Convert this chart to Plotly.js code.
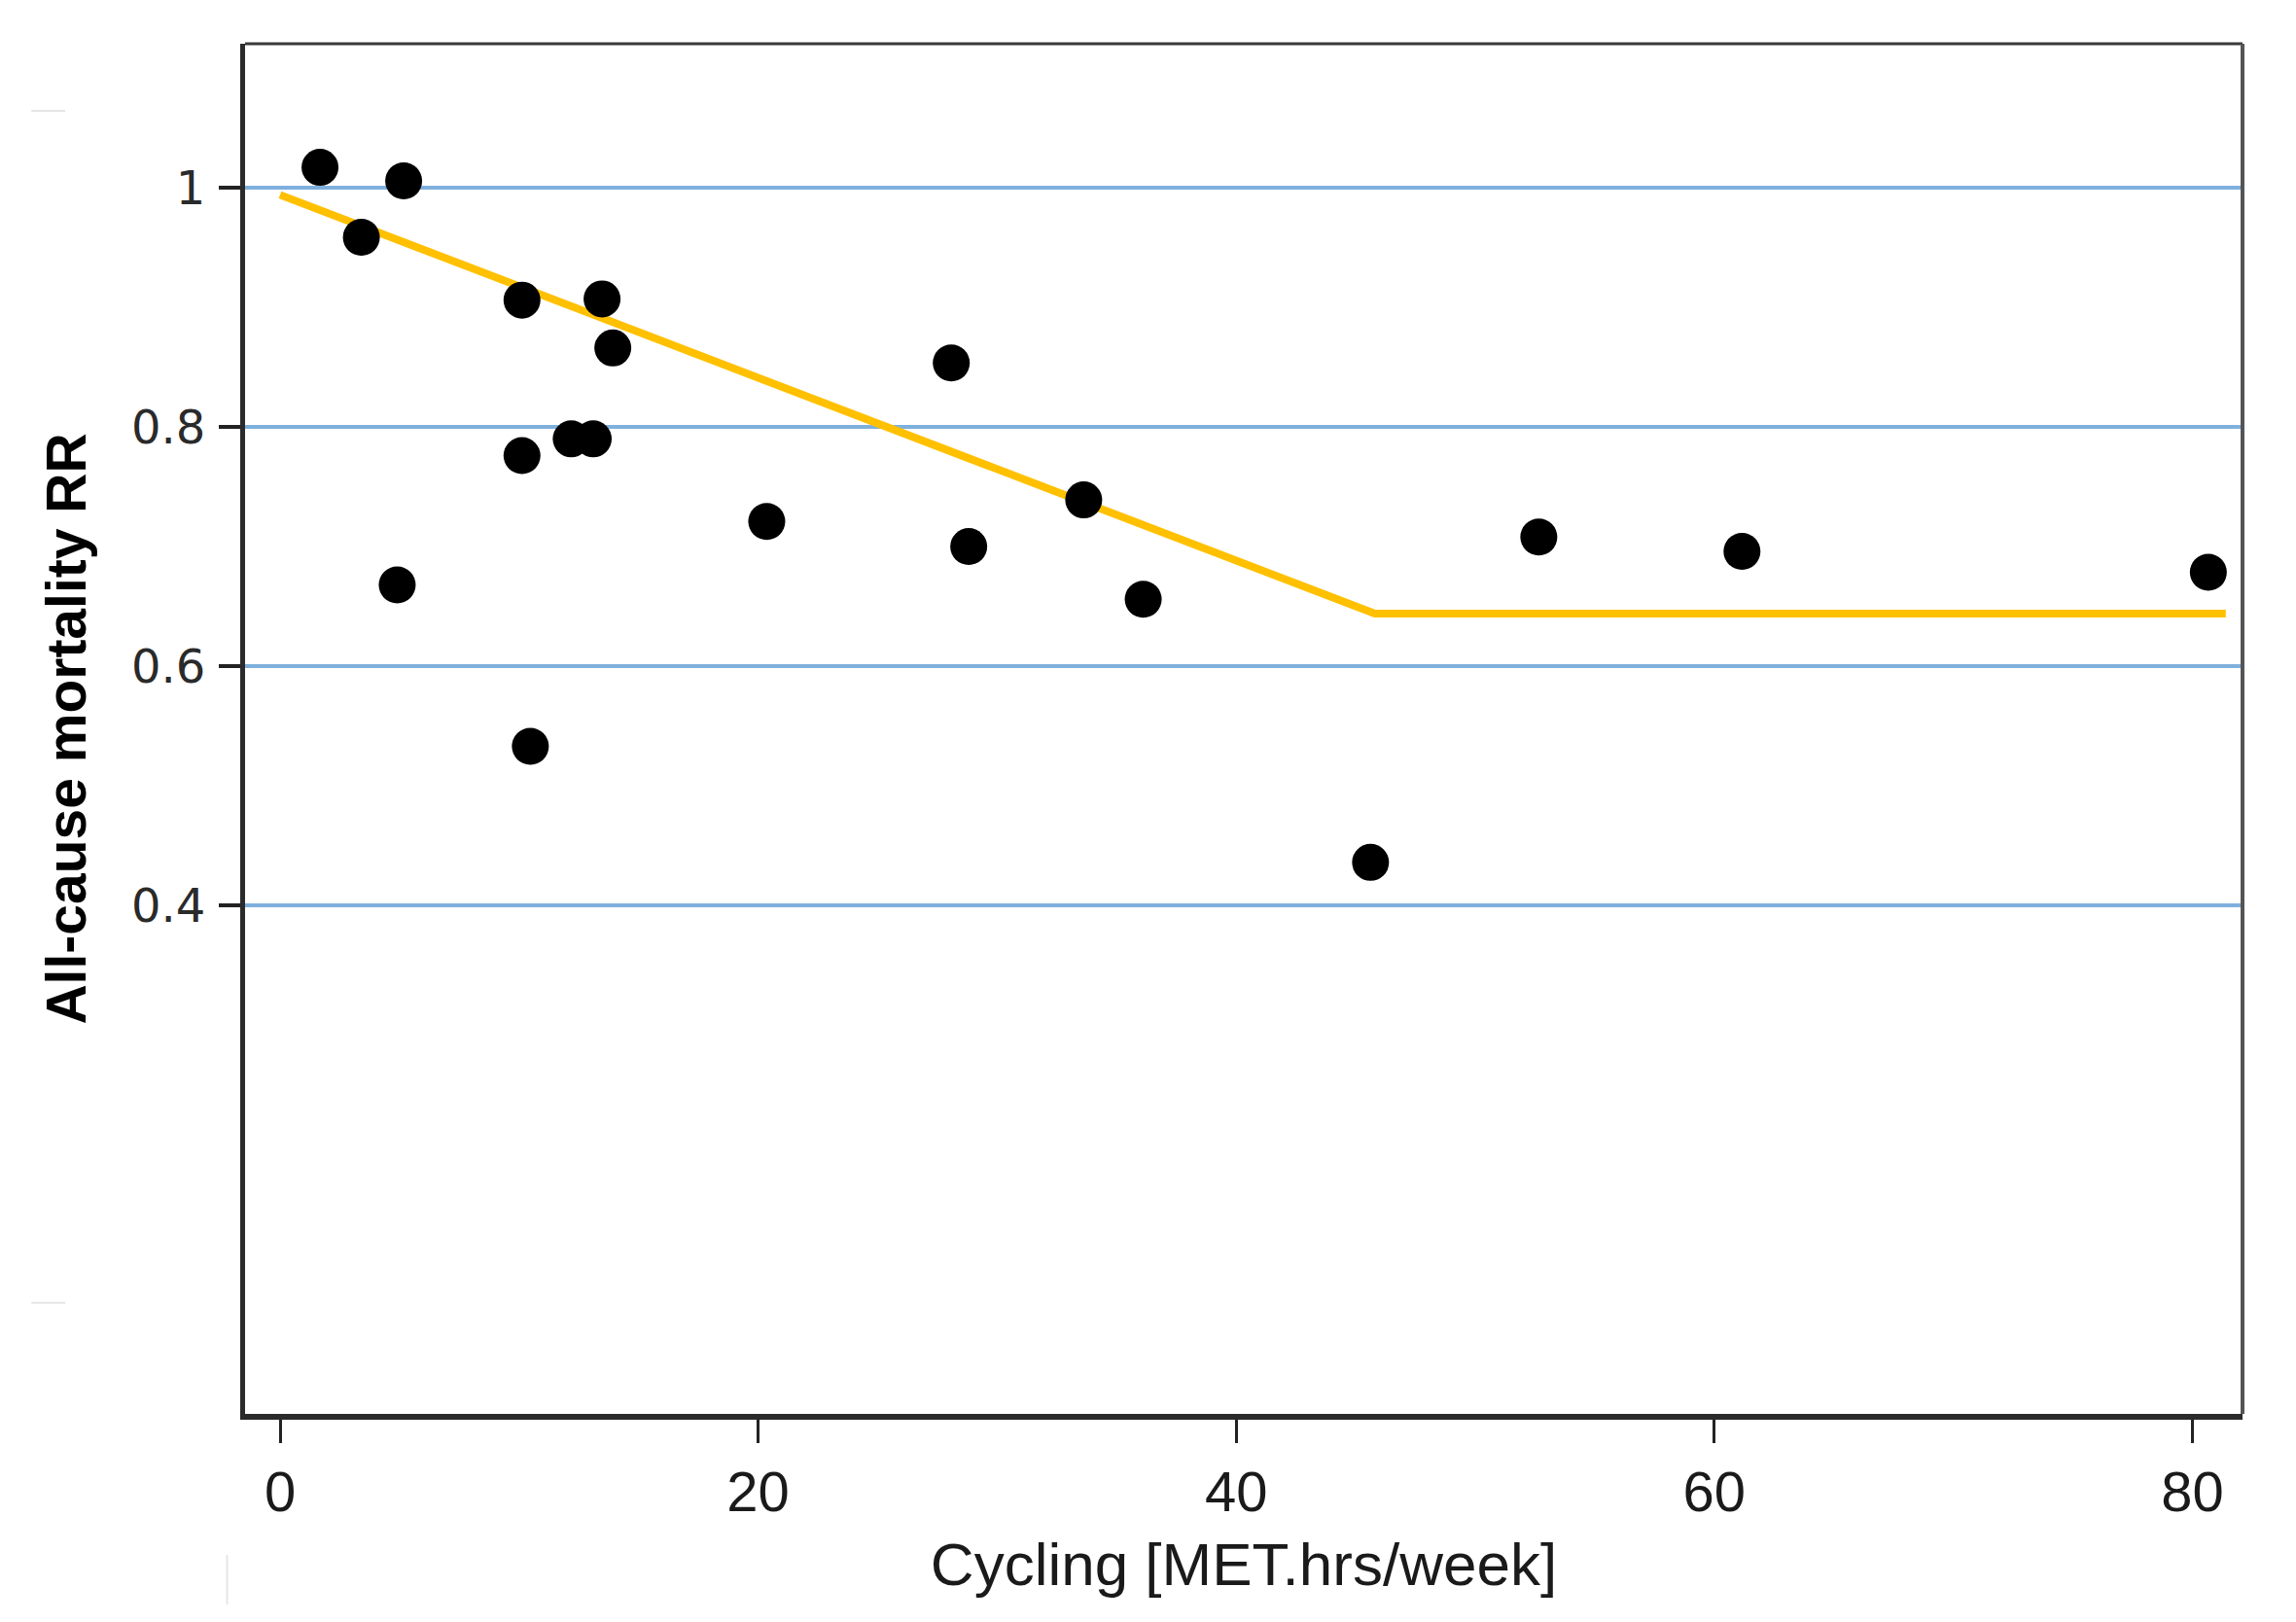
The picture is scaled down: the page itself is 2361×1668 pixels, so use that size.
<!DOCTYPE html>
<html>
<head>
<meta charset="utf-8">
<script src="https://cdn.plot.ly/plotly-3.0.1.min.js"></script>
<style>
  html, body { margin: 0; padding: 0; background: #ffffff; }
  #chart { width: 2361px; height: 1668px; }
</style>
</head>
<body>
<div id="chart"></div>
<script>
// Study estimates: cycling dose vs all-cause mortality relative risk
const cyclingMET = [1.67, 3.40, 5.17, 4.90, 10.12, 10.12, 10.47, 12.18, 13.10, 13.47, 13.92, 20.36, 28.08, 28.81, 33.62, 36.11, 45.62, 52.66, 61.16, 80.67];
const mortalityRR = [1.017, 0.9585, 1.0057, 0.668, 0.906, 0.776, 0.533, 0.790, 0.790, 0.907, 0.866, 0.721, 0.8535, 0.700, 0.739, 0.656, 0.436, 0.708, 0.696, 0.6785];

// Piecewise-linear fitted dose-response curve
const fitX = [0, 45.8, 81.4];
const fitY = [0.994, 0.644, 0.644];

// Axis ticks
const xTickVals = [0, 20, 40, 60, 80];
const xTickText = ['0', '20', '40', '60', '80'];
const yTickVals = [0.4, 0.6, 0.8, 1];
const yTickText = ['0.4', '0.6', '0.8', '1'];

const sans = '"Liberation Sans", Arial, sans-serif';

const traces = [
  {
    x: fitX, y: fitY, type: 'scatter', mode: 'lines',
    line: { color: '#FFC000', width: 8 },
    hoverinfo: 'skip', showlegend: false
  },
  {
    x: cyclingMET, y: mortalityRR, type: 'scatter', mode: 'markers',
    marker: { color: '#000000', size: 38, line: { width: 0 } },
    showlegend: false
  }
];

const layout = {
  width: 2361, height: 1668,
  margin: { l: 252, r: 55, t: 45, b: 214, pad: 0 },
  paper_bgcolor: '#ffffff', plot_bgcolor: '#ffffff',
  showlegend: false,
  xaxis: {
    range: [-1.465, 82.1],
    tickmode: 'array', tickvals: xTickVals, ticktext: xTickText,
    ticks: 'outside', ticklen: 24, tickwidth: 3, tickcolor: '#222222',
    showgrid: false, zeroline: false,
    showline: true, linecolor: '#2b2b2b', linewidth: 6,
    tickfont: { family: sans, size: 58, color: '#1a1a1a' },
    ticklabelstandoff: 0,
    title: { text: 'Cycling [MET.hrs/week]', font: { family: sans, size: 62, color: '#1a1a1a' }, standoff: 24 }
  },
  yaxis: {
    range: [-0.025, 1.1203],
    tickmode: 'array', tickvals: yTickVals, ticktext: yTickText,
    ticks: 'outside', ticklen: 22, tickwidth: 4, tickcolor: '#222222',
    showgrid: true, gridcolor: '#7fb0dd', gridwidth: 4,
    zeroline: false,
    showline: true, linecolor: '#2b2b2b', linewidth: 5,
    tickfont: { family: '"DejaVu Sans", Verdana, sans-serif', size: 48, color: '#2a2a2a' },
    ticklabelstandoff: 4,
    title: { text: '<b>All-cause mortality RR</b>', font: { family: sans, size: 57, color: '#000000' }, standoff: 30 }
  },
  shapes: [
    // thinner top and right frame edges
    { type: 'line', xref: 'paper', yref: 'paper', x0: 0, x1: 1, y0: 1, y1: 1, line: { color: '#3a3a3a', width: 3 } },
    { type: 'line', xref: 'paper', yref: 'paper', x0: 1, x1: 1, y0: 0, y1: 1, line: { color: '#555555', width: 4 } },
    // faint scan artefacts at the left edge
    { type: 'line', xref: 'paper', yref: 'paper', x0: -0.107, x1: -0.090, y0: 0.951, y1: 0.951, line: { color: '#e6e6e6', width: 2 } },
    { type: 'line', xref: 'paper', yref: 'paper', x0: -0.107, x1: -0.090, y0: 0.0810, y1: 0.0810, line: { color: '#e6e6e6', width: 2 } },
    { type: 'line', xref: 'paper', yref: 'paper', x0: -0.009, x1: -0.009, y0: -0.103, y1: -0.139, line: { color: '#e6e6e6', width: 2 } }
  ]
};

Plotly.newPlot('chart', traces, layout, { displayModeBar: false, staticPlot: true });
</script>
</body>
</html>
